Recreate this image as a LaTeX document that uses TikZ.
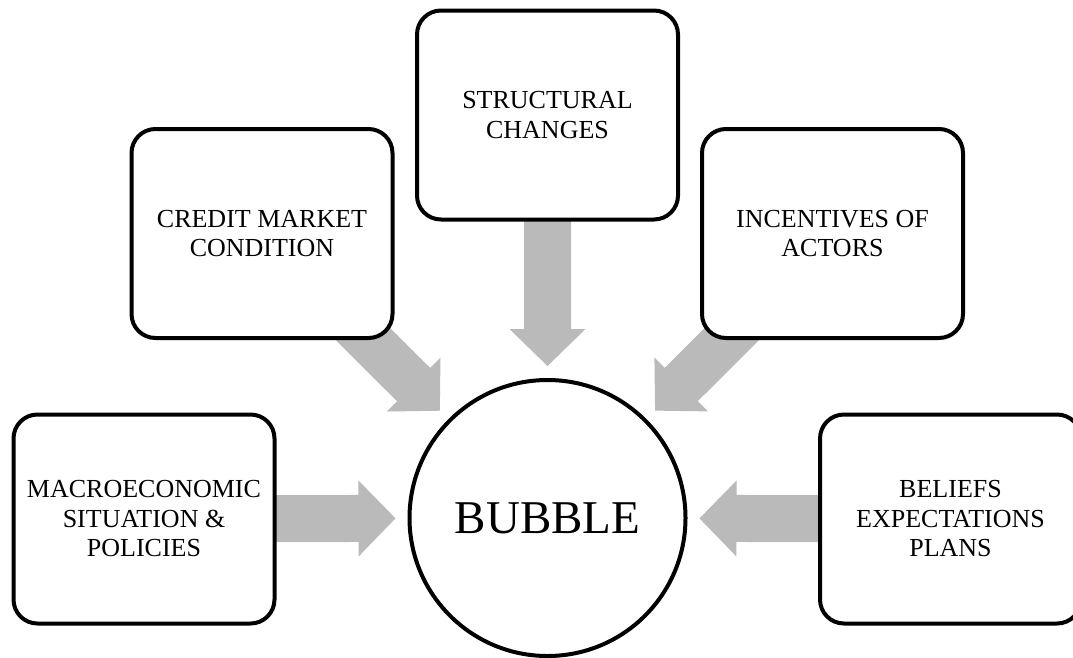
\documentclass[tikz,border=0pt]{standalone}
\usepackage{fontspec}
\setmainfont{Liberation Serif}
\usetikzlibrary{calc,backgrounds}

\definecolor{feedgray}{RGB}{186,186,186}

\tikzset{
  factor/.style={draw=black, line width=4pt, fill=white, rounded corners=24pt,
    minimum width=261pt, minimum height=209pt, align=center,
    font=\fontsize{26}{29.5}\selectfont},
  core/.style={draw=black, line width=4pt, fill=white, circle,
    minimum size=276pt, inner sep=0pt, font=\fontsize{47}{50}\selectfont},
  feed/.style={fill=feedgray}
}

% block arrow from the centre of node #1 towards node #2,
% its tip stopping short of #2's border
\newcommand\feedarrow[2]{%
  \coordinate (#1-tip) at ($(#2.center)!152pt!(#1.center)$);
  \coordinate (#1-base) at ($(#1-tip)!37pt!(#1.center)$);
  \fill[feed] ($(#1.center)!23.5pt!90:(#1-tip)$)
    -- ($(#1-base)!23.5pt!90:(#1-tip)$)
    -- ($(#1-base)!38pt!90:(#1-tip)$)
    -- (#1-tip)
    -- ($(#1-base)!38pt!-90:(#1-tip)$)
    -- ($(#1-base)!23.5pt!-90:(#1-tip)$)
    -- ($(#1.center)!23.5pt!-90:(#1-tip)$)
    -- cycle;
}

\begin{document}
\begin{tikzpicture}[x=1pt, y=-1pt]
  \useasboundingbox (0,0) rectangle (1073,657);

  \node[core] (bubble) at (547.5,518) {BUBBLE};

  \node[factor] (struct)  at (547.5,115)  {STRUCTURAL\\CHANGES};
  \node[factor] (credit)  at (262,233.5)  {CREDIT MARKET\\CONDITION};
  \node[factor] (incent)  at (832.5,233.5) {INCENTIVES OF\\ACTORS};
  \node[factor] (macro)   at (144,519)    {MACROECONOMIC\\SITUATION \&\\POLICIES};
  \node[factor] (beliefs) at (950.5,519)  {BELIEFS\\EXPECTATIONS\\PLANS};

  \begin{scope}[on background layer]
    \feedarrow{struct}{bubble}
    \feedarrow{credit}{bubble}
    \feedarrow{incent}{bubble}
    \feedarrow{macro}{bubble}
    \feedarrow{beliefs}{bubble}
  \end{scope}
\end{tikzpicture}
\end{document}
